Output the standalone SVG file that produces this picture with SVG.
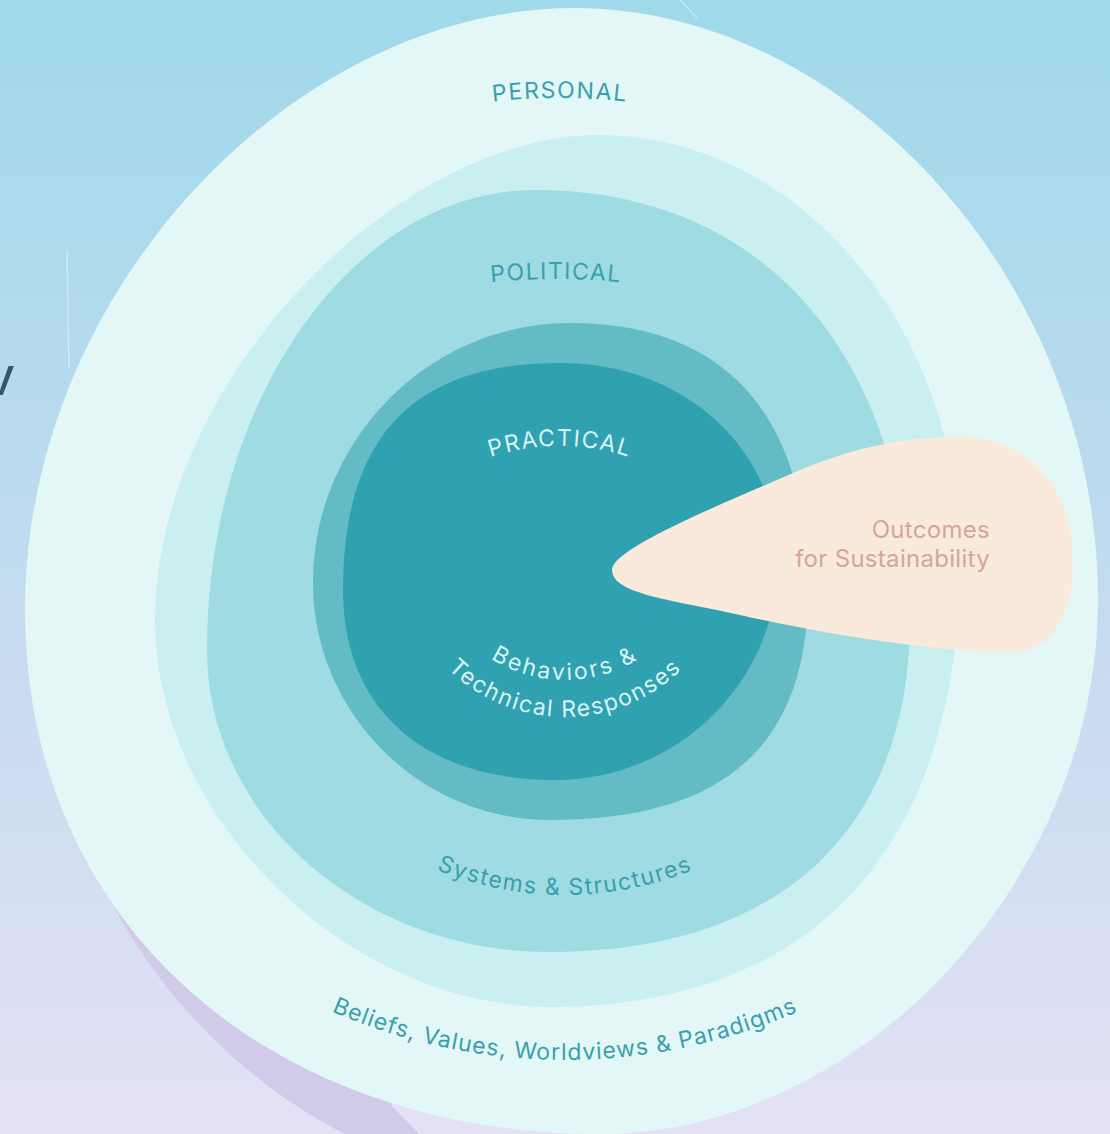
<svg xmlns="http://www.w3.org/2000/svg" width="1110" height="1134" viewBox="0 0 1110 1134">
  <defs>
    <linearGradient id="bg" x1="0" y1="0" x2="0" y2="1">
      <stop offset="0" stop-color="#9fd9ea"/>
      <stop offset="0.5" stop-color="#c1dbef"/>
      <stop offset="1" stop-color="#e4e1f5"/>
    </linearGradient>
    <path id="arcPersonal" d="M -40,698 A 600 600 0 0 1 1160,698"/>
    <path id="arcPolitical" d="M -84,919 A 640 640 0 0 1 1196,919"/>
    <path id="arcPractical" d="M 340,666 A 220 220 0 0 1 780,666"/>
    <path id="arcBehaviors" d="M 425,540 A 140 140 0 0 0 705,540"/>
    <path id="arcTechnical" d="M 398,550 A 167 167 0 0 0 732,550"/>
    <path id="arcSystems" d="M 227,557 A 338 338 0 0 0 903,557"/>
    <path id="arcBeliefs" d="M -20,475 A 585 585 0 0 0 1150,475"/>
  </defs>
  <style>
    .lbl { font-family: Inter, "Liberation Sans", sans-serif; font-size: 23px; fill: #3a9fac; }
    .lbl-light { font-family: Inter, "Liberation Sans", sans-serif; font-size: 23px; fill: #d8f3f3; }
    .out { font-family: Inter, "Liberation Sans", sans-serif; font-size: 24px; fill: #d4a698; letter-spacing: 0.3px; }
    .faint { stroke: #ffffff; stroke-opacity: 0.4; stroke-width: 1.5; fill: none; }
  </style>

  <g id="background">
    <rect x="0" y="0" width="1110" height="1134" fill="url(#bg)"/>
    <path d="M 88,850 C 130,960 220,1070 345,1134 L 421,1134 L 392,1105 L 420,1050 L 300,950 Z" fill="#d2cae9"/>
    <line class="faint" x1="392" y1="1105" x2="421" y2="1134"/>
    <line class="faint" x1="680" y1="0" x2="697" y2="18"/>
    <line class="faint" stroke-opacity="0.2" x1="67" y1="250" x2="69" y2="368"/>
    <text x="-14" y="395" font-family="'Liberation Sans', sans-serif" font-size="56" fill="#2f5b64">v</text>
  </g>

  <g id="personal">
    <path d="M 575,8 C 845,8 1098,280 1098,600 C 1098,880 860,1134 600,1134 C 270,1134 25,925 25,610 C 25,290 295,8 575,8 Z" fill="#e3f7f7"/>
  </g>
  <g id="personal-inner">
    <path d="M 598,135 C 798,135 960,326 960,560 C 960,840 820,1007 550,1007 C 350,1007 155,820 155,620 C 155,380 398,135 598,135 Z" fill="#c9eff0"/>
  </g>
  <g id="political">
    <path d="M 535,190 C 775,190 910,370 910,620 C 910,820 790,952 550,952 C 361,952 207,816 207,650 C 207,397 355,190 535,190 Z" fill="#9fdbe2"/>
  </g>
  <g id="practical-outer">
    <path d="M 570,323 C 730,323 808,420 808,590 C 808,740 730,820 550,820 C 420,820 313,713 313,583 C 313,440 429,323 570,323 Z" fill="#62bbc5"/>
  </g>
  <g id="practical">
    <path d="M 560,363 C 685,363 778,450 778,560 C 778,681 678,780 555,780 C 425,780 343,710 343,590 C 343,440 410,363 560,363 Z" fill="#30a1b0"/>
  </g>
  <g id="outcomes">
    <path d="M 612,570 C 612,548 720,505 800,470 C 860,445 910,437 960,437 C 1030,437 1073,490 1073,560 C 1073,620 1050,652 1010,652 C 950,652 850,640 740,615 C 680,601 612,595 612,570 Z" fill="#f9eadb"/>
    <text class="out" x="990" y="538" text-anchor="end">Outcomes</text>
    <text class="out" x="990" y="567" text-anchor="end">for Sustainability</text>
  </g>

  <g id="labels">
    <text class="lbl" letter-spacing="1.6"><textPath href="#arcPersonal" startOffset="50%" text-anchor="middle">PERSONAL</textPath></text>
    <text class="lbl" letter-spacing="1.4"><textPath href="#arcPolitical" startOffset="50%" text-anchor="middle">POLITICAL</textPath></text>
    <text class="lbl-light" font-size="22" letter-spacing="1.5"><textPath href="#arcPractical" startOffset="50%" text-anchor="middle">PRACTICAL</textPath></text>
    <text class="lbl-light" letter-spacing="2.5"><textPath href="#arcBehaviors" startOffset="50%" text-anchor="middle">Behaviors &amp;</textPath></text>
    <text class="lbl-light" letter-spacing="1.6"><textPath href="#arcTechnical" startOffset="50%" text-anchor="middle">Technical Responses</textPath></text>
    <text class="lbl" letter-spacing="1.5"><textPath href="#arcSystems" startOffset="50%" text-anchor="middle">Systems &amp; Structures</textPath></text>
    <text class="lbl" letter-spacing="1"><textPath href="#arcBeliefs" startOffset="50%" text-anchor="middle">Beliefs, Values, Worldviews &amp; Paradigms</textPath></text>
  </g>
</svg>
